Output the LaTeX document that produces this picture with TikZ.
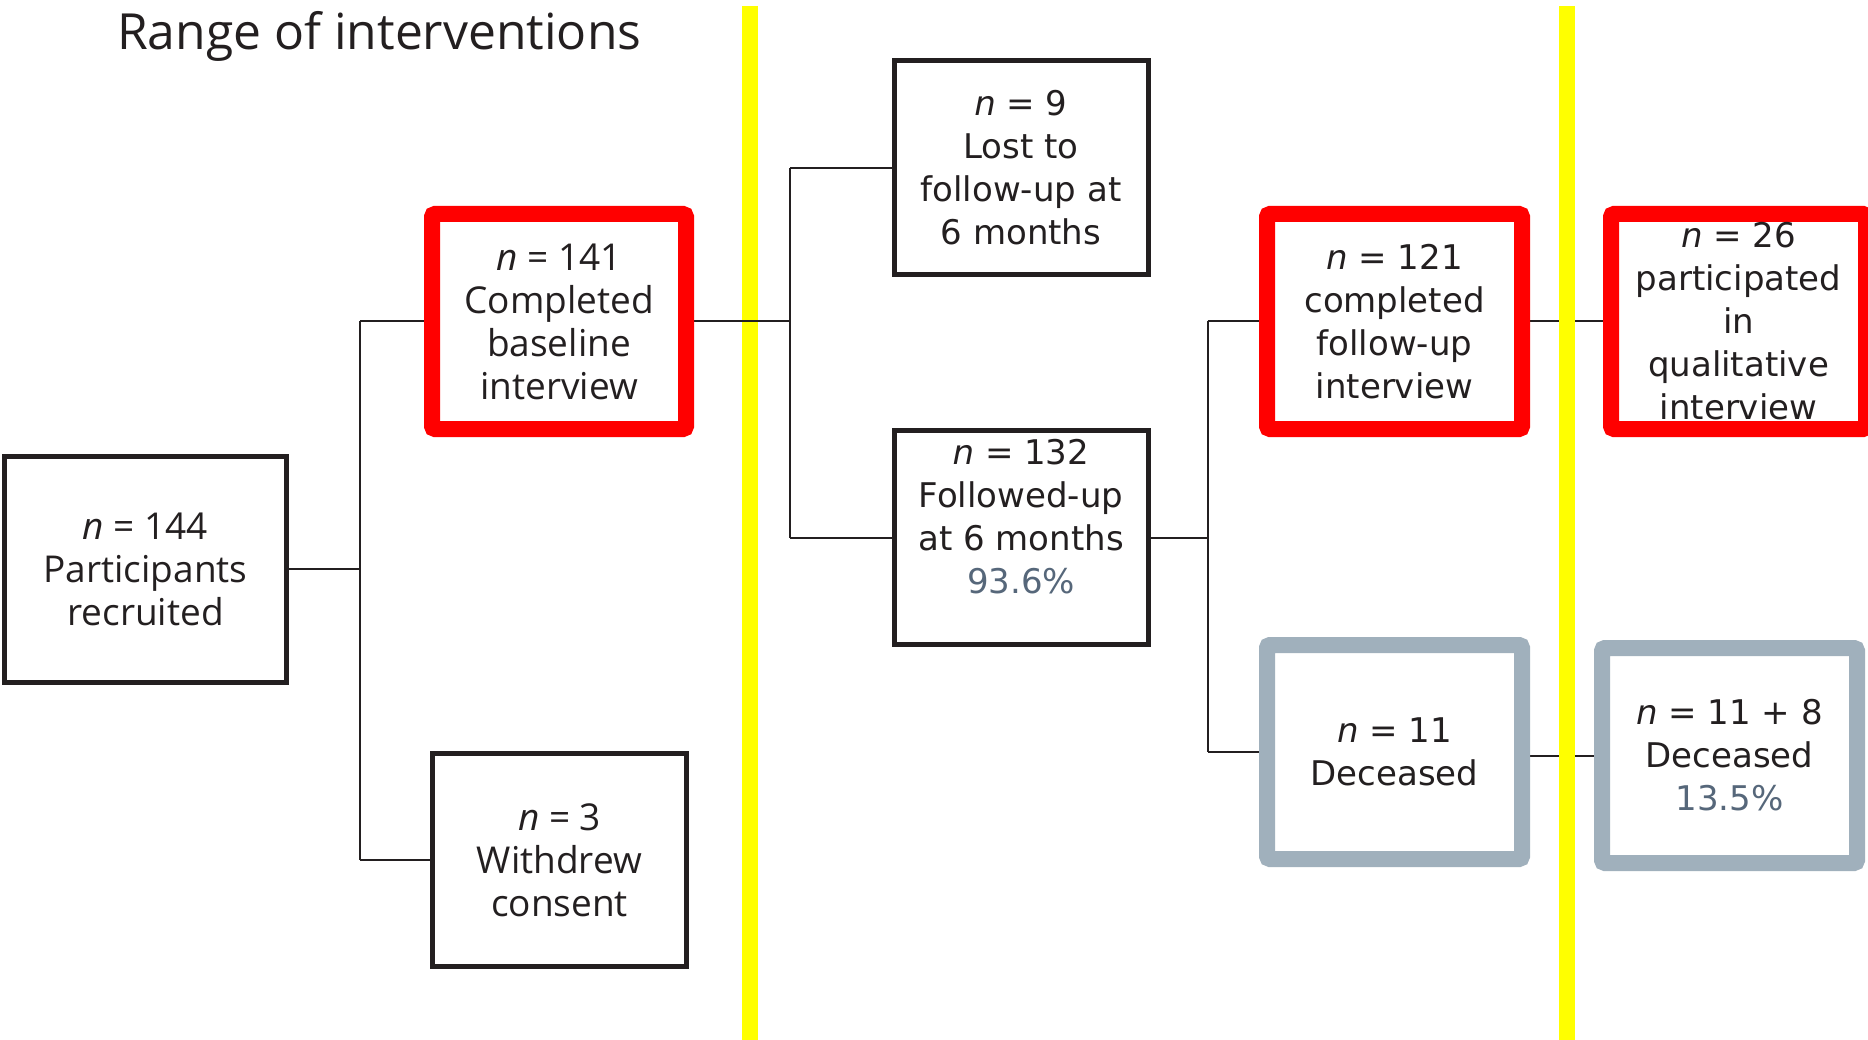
\documentclass[tikz,border=0pt]{standalone}
\usepackage{fontspec}
\newfontfamily\leftfont{Open Sans}
\newfontfamily\rightfont{DejaVu Sans}
\definecolor{ink}{HTML}{231F20}
\definecolor{redb}{HTML}{FF0000}
\definecolor{grayb}{HTML}{A0B0BC}
\definecolor{pct}{HTML}{56677A}
\definecolor{yel}{HTML}{FFFF00}
\pgfdeclarelayer{back}
\pgfdeclarelayer{links}
\pgfsetlayers{back,links,main}
\tikzset{
  boxbase/.style={rectangle, fill=white, inner sep=0pt, outer sep=0pt, align=center, text=ink},
  blk/.style={boxbase, draw=ink, line width=5pt, minimum width=254pt, minimum height=214pt},
  redbox/.style={boxbase, draw=redb, line width=16pt, rounded corners=3pt, minimum width=255pt, minimum height=215pt},
  graybox/.style={boxbase, draw=grayb, line width=16pt, rounded corners=3pt, minimum width=255pt, minimum height=215pt},
  lft/.style={font=\leftfont\fontsize{37}{43}\selectfont},
  rgt/.style={font=\rightfont\fontsize{34}{43}\selectfont},
  conn/.style={draw=ink, line width=2pt},
  yline/.style={draw=yel, line width=16pt},
}
\begin{document}
\begin{tikzpicture}[x=1pt,y=-1pt]
\begin{pgfonlayer}{back}
\fill[white] (0,0) rectangle (1868,1040);
\end{pgfonlayer}
\useasboundingbox (0,0) rectangle (1868,1040);
% first yellow line (behind connectors)
\coordinate (y1t) at (749.5,6);
\coordinate (y1b) at (749.5,1040);
\begin{pgfonlayer}{back}
\draw[yline] (y1t) -- (y1b);
\end{pgfonlayer}
% title
\node[text=ink, font=\leftfont\fontsize{49.8}{56}\selectfont, anchor=base west, inner sep=0pt] (title) at (117,50) {Range of interventions};
% boxes
\node[blk, lft, minimum width=282pt, minimum height=226pt] (A) at (145.5,569) {\textit{n} = 144\\Participants\\recruited};
\node[redbox, lft, minimum width=254pt] (B) at (559,321.5) {\textit{n} = 141\\Completed\\baseline\\interview};
\node[blk, lft, minimum height=213pt] (W) at (559.5,860) {\textit{n} = 3\\Withdrew\\consent};
\node[blk, rgt] (L) at (1021,168) {\textit{n} = 9\\Lost to\\follow-up at\\6 months};
\node[blk, rgt] (F) at (1021,537.5) {\textit{n} = 132\\Followed-up\\at 6 months\\{\color{pct}93.6\%}\\\mbox{}};
\node[redbox, rgt] (C) at (1394.5,321.5) {\textit{n} = 121\\completed\\follow-up\\interview};
\node[graybox, rgt, minimum height=214pt] (D) at (1394.5,752) {\textit{n} = 11\\Deceased};
\node[redbox, rgt] (Q) at (1738.5,321.5) {};
\node[rgt, text=ink, align=center, inner sep=0pt] (Qt) at (Q.center) {\textit{n} = 26\\participated\\in\\qualitative\\interview};
\node[graybox, rgt] (E) at (1729.5,755.5) {\textit{n} = 11 + 8\\Deceased\\{\color{pct}13.5\%}};
% junction coordinates
\coordinate (j1) at (360,569);
\coordinate (j2) at (790,321.5);
\coordinate (j3) at (1207.5,537.5);
% connectors
\begin{pgfonlayer}{links}
\draw[conn] (A.east) -- (j1);
\draw[conn] (j1 |- B.west) -- (j1 |- W.west);
\draw[conn] (j1 |- B.west) -- (B.west);
\draw[conn] (j1 |- W.west) -- (W.west);
\draw[conn] (B.east) -- (j2);
\draw[conn] (j2 |- L.west) -- (j2 |- F.west);
\draw[conn] (j2 |- L.west) -- (L.west);
\draw[conn] (j2 |- F.west) -- (F.west);
\draw[conn] (F.east) -- (j3);
\draw[conn] (j3 |- C.west) -- (j3 |- D.west);
\draw[conn] (j3 |- C.west) -- (C.west);
\draw[conn] (j3 |- D.west) -- (D.west);
\draw[conn] (C.east) -- (Q.west);
\draw[conn] (D.east |- E.west) -- (E.west);
\end{pgfonlayer}
% second yellow line (on top)
\coordinate (y2t) at (1566.5,6);
\coordinate (y2b) at (1566.5,1040);
\draw[yline] (y2t) -- (y2b);
\end{tikzpicture}
\end{document}
